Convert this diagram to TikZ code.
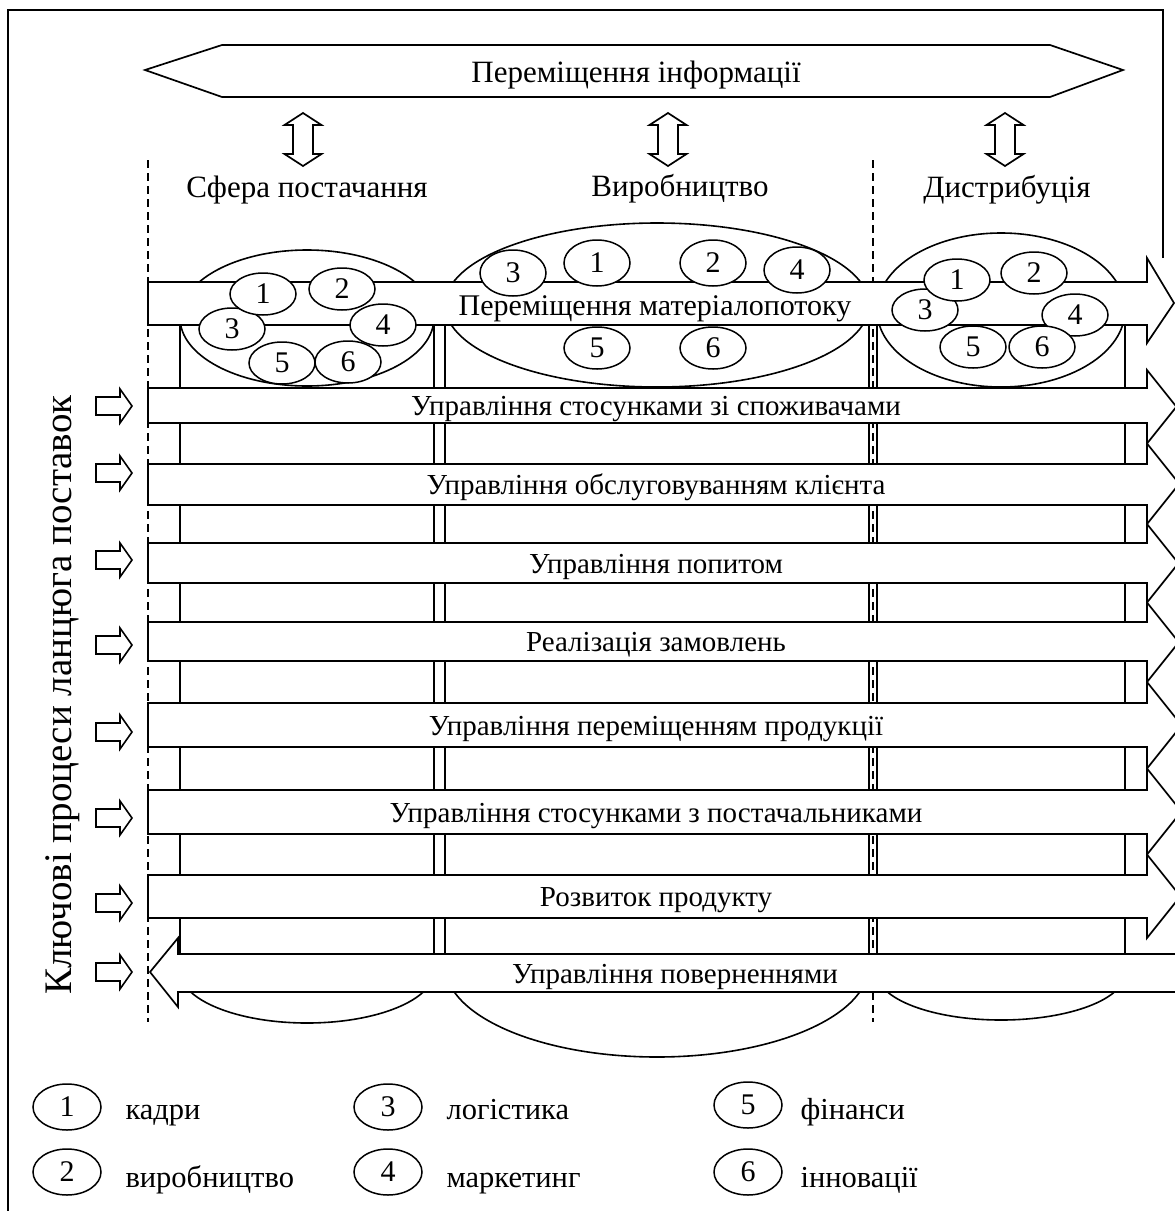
\documentclass[tikz,border=0pt]{standalone}
\usepackage{fontspec}
\setmainfont{Liberation Serif}
\usetikzlibrary{shapes.geometric}
\begin{document}
\begin{tikzpicture}[x=1pt,y=-1pt,
  ln/.style={line width=1.7pt},
  thin/.style={line width=1.6pt},
  bandbox/.style={draw, line width=1.7pt, fill=white},
  sepline/.style={line width=1.6pt, dash pattern=on 8pt off 5pt},
  num/.style={ellipse, draw, fill=white, line width=1.5pt, minimum width=66pt, minimum height=42pt, inner sep=0pt, font=\fontsize{30}{30}\selectfont},
  numm/.style={num, minimum height=46pt},
  lgnum/.style={num, minimum width=68pt, minimum height=46pt},
  hdr/.style={anchor=base, font=\fontsize{31}{36}\selectfont},
  bandtxt/.style={anchor=base, font=\fontsize{29}{34}\selectfont},
  lgtxt/.style={anchor=base west, font=\fontsize{30.5}{34}\selectfont}]
\useasboundingbox (0,0) rectangle (1175,1211);
\clip (0,0) rectangle (1175,1211);
\fill[white] (0,0) rectangle (1175,1211);

% frame
\draw[ln] (1163,258) -- (1163,10) -- (8,10) -- (8,1215);

% information flow
\draw[ln] (145,70) -- (222,45) -- (1050,45) -- (1123,70) -- (1050,97) -- (222,97) -- cycle;
\node[hdr] (info) at (636,82) {Переміщення інформації};

% vertical double arrows
\foreach \cx [count=\i] in {303,668,1005} {
  \draw[ln] (\cx,113) -- ++(18.5,12) -- ++(-8.5,0) -- ++(0,29) -- ++(8.5,0) -- (\cx,166)
    -- ++(-18.5,-12) -- ++(8.5,0) -- ++(0,-29) -- ++(-8.5,0) -- cycle;
}

% column labels
\node[hdr] (sup) at (307,197) {Сфера постачання};
\node[hdr] (prod) at (680,196) {Виробництво};
\node[hdr] (dist) at (1007,197) {Дистрибуція};

% dashed separators
\draw[sepline] (148,160) -- (148,1022);
\draw[sepline] (873,160) -- (873,1022);

% cylinders: top ellipse, sides, lower arc of bottom ellipse
\foreach \cx/\rx/\ty/\ry/\by/\bry in {307/127/318/68/971/52, 657/212/305/82/965/92, 1001/124/310/77/973/47} {
  \draw[thin] (\cx,\ty) ellipse [x radius=\rx pt, y radius=\ry pt];
  \draw[thin] ({\cx-\rx},\ty) -- ({\cx-\rx},\by);
  \draw[thin] ({\cx+\rx},\ty) -- ({\cx+\rx},\by);
  \begin{scope}
    \clip ({\cx-\rx-5},\by) rectangle ({\cx+\rx+5},{\by+200});
    \draw[thin] (\cx,\by) ellipse [x radius=\rx pt, y radius=\bry pt];
  \end{scope}
}

% material flow band
\draw[bandbox] (148,282) -- (1147,282) -- (1147,258) -- (1174,303) -- (1147,343) -- (1147,325) -- (148,325) -- cycle;
\node[bandtxt, font=\fontsize{30}{34}\selectfont] (mat) at (655,315) {Переміщення матеріалопотоку};

% process bands
\foreach \t/\b/\hu/\hd/\txt [count=\i] in {
  388/423/370/443.5/{Управління стосунками зі споживачами},
  464/505/443.5/524/{Управління обслуговуванням клієнта},
  543/583/524/602.5/{Управління попитом},
  622/661/602.5/682/{Реалізація замовлень},
  703/747/682/768.5/{Управління переміщенням продукції},
  790/834/768.5/854.5/{Управління стосунками з постачальниками},
  875/918/854.5/938/{Розвиток продукту}} {
  \draw[bandbox] (148,\t) -- (1147,\t) -- (1147,\hu) -- ({1147+(\hd-\hu)*0.4},{(\hu+\hd)/2})
     -- (1147,\hd) -- (1147,\b) -- (148,\b) -- cycle;
  \node[bandtxt] (band\i) at (656,{(\t+\b)/2+10}) {\txt};
}

% returns band
\draw[bandbox] (1190,954) -- (178,954) -- (178,938) -- (150,972) -- (178,1007) -- (178,992) -- (1190,992);
\node[bandtxt] (ret) at (675,983) {Управління поверненнями};

% small function ellipses - supply
\node[num] (s3) at (232,329) {3};
\node[num] (s1) at (263,294) {1};
\node[num] (s2) at (342,289) {2};
\node[num] (s5) at (282,363) {5};
\node[num] (s6) at (348,362) {6};
\node[num] (s4) at (383,325) {4};
% production
\node[numm] (p3) at (513,273) {3};
\node[numm] (p1) at (597,263) {1};
\node[numm] (p2) at (713,263) {2};
\node[numm] (p4) at (797,270) {4};
\node[num] (p5) at (597,348) {5};
\node[num] (p6) at (713,348) {6};
% distribution
\node[num] (d3) at (925,310) {3};
\node[num] (d1) at (957,280) {1};
\node[num] (d2) at (1034,273) {2};
\node[num] (d4) at (1075,315) {4};
\node[num] (d5) at (973,347) {5};
\node[num] (d6) at (1042,347) {6};

% small input arrows
\foreach \c in {406,473,560,645,732,818,903,972} {
  \draw[thin] (96,{\c-9}) -- (120,{\c-9}) -- (120,{\c-17}) -- (132,\c) -- (120,{\c+17}) -- (120,{\c+9}) -- (96,{\c+9}) -- cycle;
}

% vertical title
\node[rotate=90, anchor=base, font=\fontsize{39}{42}\selectfont] (kp) at (71,695) {Ключові процеси ланцюга поставок};

% legend
\node[lgnum] (l1) at (67,1107) {1};
\node[lgtxt] (t1) at (122,1119) {кадри};
\node[lgnum] (l2) at (67,1172) {2};
\node[lgtxt] (t2) at (122,1187) {виробництво};
\node[lgnum] (l3) at (388,1107) {3};
\node[lgtxt] (t3) at (443,1119) {логістика};
\node[lgnum] (l4) at (388,1172) {4};
\node[lgtxt] (t4) at (443,1187) {маркетинг};
\node[lgnum] (l5) at (748,1105) {5};
\node[lgtxt] (t5) at (797,1119) {фінанси};
\node[lgnum] (l6) at (748,1172) {6};
\node[lgtxt] (t6) at (797,1187) {інновації};
\end{tikzpicture}
\end{document}
